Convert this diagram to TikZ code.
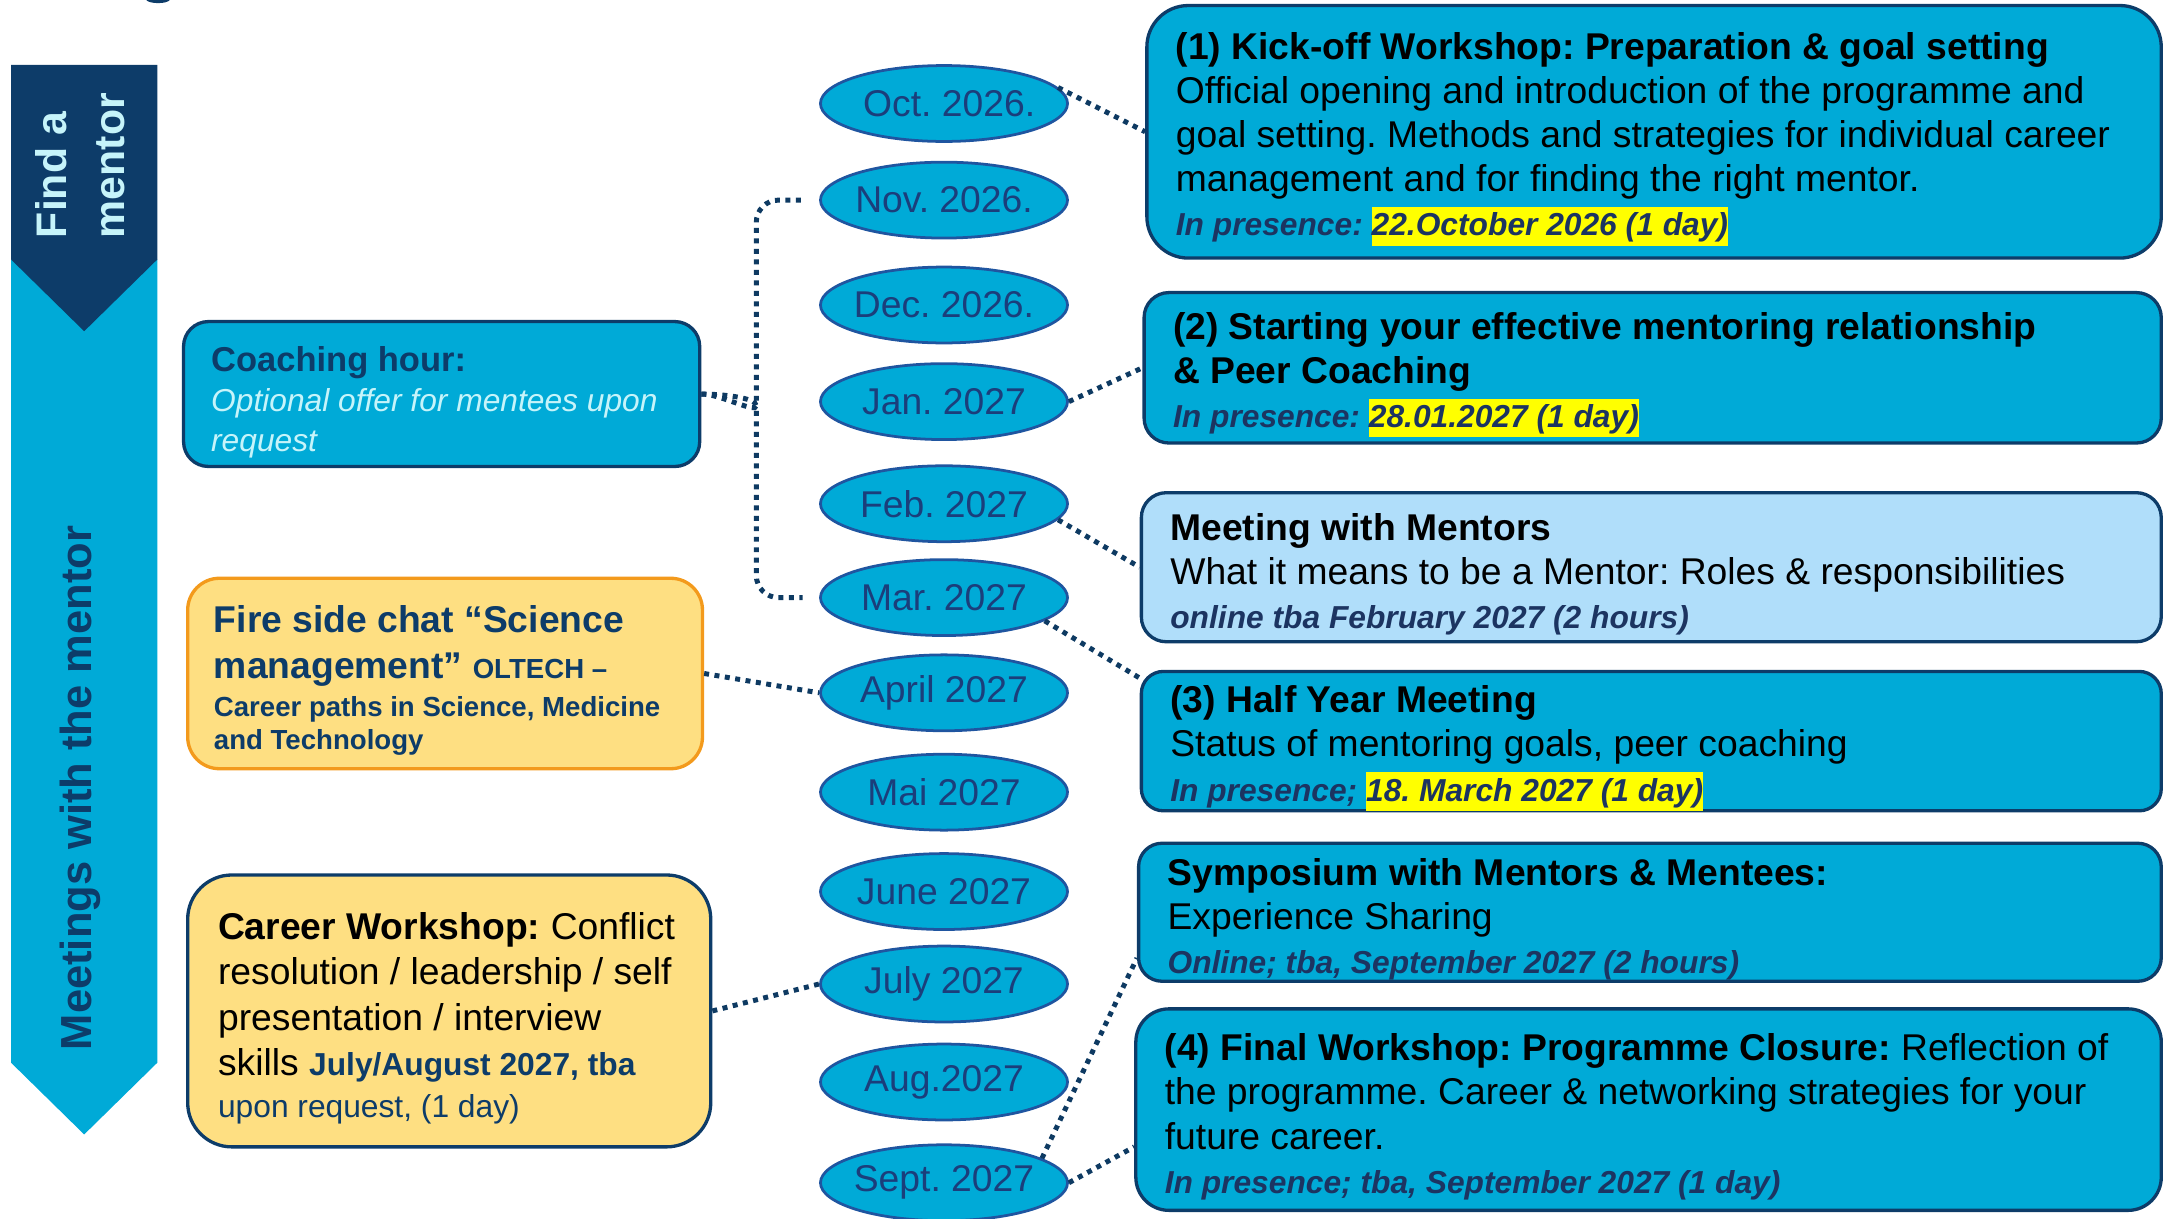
\documentclass[tikz,border=0pt]{standalone}
\usepackage{fontspec}
\setmainfont{Liberation Sans}
\frenchspacing
\usetikzlibrary{shapes.geometric}
\definecolor{cyanfill}{HTML}{00AAD7}
\definecolor{navy}{HTML}{0D3C69}
\definecolor{ovalblue}{HTML}{1F55A0}
\definecolor{datetext}{HTML}{1B3E7B}
\definecolor{linkblue}{HTML}{0E3A62}
\definecolor{paleblue}{HTML}{B0DEFA}
\definecolor{sand}{HTML}{FEDF82}
\definecolor{amber}{HTML}{F39A1C}
\definecolor{icecyan}{HTML}{C6F4FA}
\definecolor{hiyellow}{HTML}{FFFF00}
\definecolor{darktext}{HTML}{1C3461}
\tikzset{month/.style = {shape=ellipse,draw=ovalblue,fill=cyanfill,line width=1pt,minimum width=89.5pt,minimum height=27.5pt,inner sep=0pt,text=datetext,font=\fontsize{13.5}{16}\selectfont}}
\tikzset{event/.style = {draw=navy,fill=cyanfill,line width=1.2pt,align=flush left,inner xsep=10.5pt,inner ysep=0pt,font=\fontsize{13.5}{16}\selectfont,execute at begin node={\rule{0pt}{15pt}}}}
\tikzset{link/.style = {draw=linkblue,line width=1.8pt,dash pattern=on 1.8pt off 2pt}}
\newcommand{\mon}[1]{\makebox[0pt]{#1}}
\newcommand{\hlday}[1]{{\setlength{\fboxsep}{0pt}\colorbox{hiyellow}{\rule[-3.5pt]{0pt}{14pt}#1}}}
\newcommand{\when}[1]{{\fontsize{11.5}{16}\selectfont\bfseries\itshape\color{darktext}#1}}

\begin{document}
\begin{tikzpicture}[x=0.5pt,y=-0.5pt]
            \useasboundingbox (0,0) rectangle (1568,883);

            % Banner
            \fill[cyanfill] (8,188) -- (114,188) -- (114,770) -- (61,822) -- (8,770) -- cycle;
            \fill[navy] (8,47) -- (114,47) -- (114,188) -- (61,240) -- (8,188) -- cycle;
            \fill[navy] (106,0) .. controls (108,3) and (121,3) .. (123,0) -- cycle;
            \node[rotate=90,align=left,inner sep=0pt,text=icecyan,font=\fontsize{15.5}{21}\selectfont\bfseries] (find) at (58,120) {Find a\\mentor};
            \node[rotate=90,inner sep=0pt,text=navy,font=\fontsize{15.75}{19}\selectfont\bfseries] (meet) at (58,571) {Meetings with the mentor};

            % Months
            \node[month] (oct) at (684,75) {\mon{\ Oct. 2026.}};
            \node[month] (nov) at (684,145) {\mon{Nov. 2026.}};
            \node[month] (dec) at (684,221) {\mon{Dec. 2026.}};
            \node[month] (jan) at (684,291) {\mon{Jan. 2027}};
            \node[month] (feb) at (684,365) {\mon{Feb. 2027}};
            \node[month] (mar) at (684,433) {\mon{Mar. 2027}};
            \node[month] (apr) at (684,502) {\mon{April 2027}};
            \node[month] (mai) at (684,574) {\mon{Mai 2027}};
            \node[month] (jun) at (684,646) {\mon{June 2027}};
            \node[month] (jul) at (684,713) {\mon{July 2027}};
            \node[month] (aug) at (684,784) {\mon{Aug.2027}};
            \node[month] (sep) at (684,857) {\mon{Sept. 2027}};

            % Events
            \node[event,rounded corners=15pt,minimum width=367.5pt,minimum height=91.5pt,text width=346.5pt] (kickoff) at (1198.5,95.5) {\textbf{(1) Kick-off Workshop: Preparation \& goal setting}\\
                Official opening and introduction of the programme and\\
                goal setting. Methods and strategies for individual career\\
                management and for finding the right mentor.\\
                \when{In presence: \hlday{22.October 2026 (1 day)}}};
            \node[event,rounded corners=9pt,minimum width=368.5pt,minimum height=54.5pt,text width=347.5pt] (starting) at (1197.5,266.5) {\textbf{(2) Starting your effective mentoring relationship}\\
                \textbf{\& Peer Coaching}\\
                \when{In presence: \hlday{28.01.2027 (1 day)}}};
            \node[event,fill=paleblue,rounded corners=9pt,minimum width=369.5pt,minimum height=54pt,text width=348.5pt] (mentors) at (1196.5,411) {\textbf{Meeting with Mentors}\\
                What it means to be a Mentor: Roles \& responsibilities\\
                \when{online tba February 2027 (2 hours)}};
            \node[event,rounded corners=8pt,minimum width=369.5pt,minimum height=49pt,text width=348.5pt] (halfyear) at (1196.5,537) {\textbf{(3) Half Year Meeting}\\
                Status of mentoring goals, peer coaching\\
                \when{In presence; \hlday{18. March 2027 (1 day)}}};
            \node[event,rounded corners=8.5pt,minimum width=370.5pt,minimum height=50pt,text width=349.5pt] (symposium) at (1195.5,661) {\textbf{Symposium with Mentors \& Mentees:}\\
                Experience Sharing\\
                \when{Online; tba, September 2027 (2 hours)}};
            \node[event,rounded corners=12pt,minimum width=371.5pt,minimum height=73pt,text width=350.5pt] (final) at (1194.5,804) {\textbf{(4) Final Workshop: Programme Closure:} Reflection of\\
                the programme. Career \& networking strategies for your\\
                future career.\\
                \when{In presence; tba, September 2027 (1 day)}};

            % Side offers
            \node[event,rounded corners=9pt,inner xsep=10pt,minimum width=187pt,minimum height=52.5pt,text width=167pt,font=\fontsize{12.5}{14.5}\selectfont,execute at begin node={\rule{0pt}{11.5pt}}] (coach) at (320,285.5) {{\bfseries\color{navy}Coaching hour:}\\
                {\fontsize{11.5}{14.5}\selectfont\itshape\color{icecyan}Optional offer for mentees upon}\\
                {\fontsize{11.5}{14.5}\selectfont\itshape\color{icecyan}request}};
            \node[event,draw=amber,fill=sand,text=navy,rounded corners=11.5pt,inner xsep=9.5pt,minimum width=186.5pt,minimum height=69pt,text width=167.5pt,font=\fontsize{13.5}{16.5}\selectfont\bfseries] (fire) at (322.5,488) {Fire side chat “Science\\
                management” {\fontsize{10}{12}\selectfont OLTECH –}\\[-2.5pt]
                {\fontsize{10}{12}\selectfont Career paths in Science, Medicine}\\[-4.5pt]
                {\fontsize{10}{12}\selectfont and Technology}};
            \node[event,fill=sand,rounded corners=16pt,inner xsep=11pt,minimum width=189.5pt,minimum height=98.5pt,text width=167.5pt,font=\fontsize{13.5}{16.5}\selectfont] (career) at (325.5,732.5) {\textbf{Career Workshop:} Conflict\\
                resolution / leadership / self\\
                presentation / interview\\
                skills {\fontsize{11.5}{16}\selectfont\bfseries\color{navy}July/August 2027, tba}\\[-1.5pt]
                {\fontsize{11.5}{16}\selectfont\color{navy}upon request, (1 day)}};

            % Links
            \coordinate (brace) at (548,294);
            \draw[link] (oct.8) -- (kickoff.west);
            \draw[link,rounded corners=8pt] (coach.east) .. controls +(14,0) and +(0,10) .. ([yshift=8pt]brace) |- ([xshift=-6pt]nov.west);
            \draw[link,rounded corners=8pt] (coach.east) .. controls +(14,0) and +(0,-10) .. ([yshift=-8pt]brace) |- ([xshift=-6pt]mar.west);
            \draw[link] (jan.east) -- (starting.west);
            \draw[link] (feb.-8) -- (mentors.west);
            \draw[link] (mar.-13) -- ([yshift=-3pt]halfyear.north west);
            \draw[link] (fire.east) -- (apr.west);
            \draw[link] (career.east) -- (jul.west);
            \draw[link] (sep.14) -- ([yshift=9pt]symposium.south west);
            \draw[link] (sep.east) -- ([yshift=-13.5pt]final.west);
        \end{tikzpicture}
\end{document}
